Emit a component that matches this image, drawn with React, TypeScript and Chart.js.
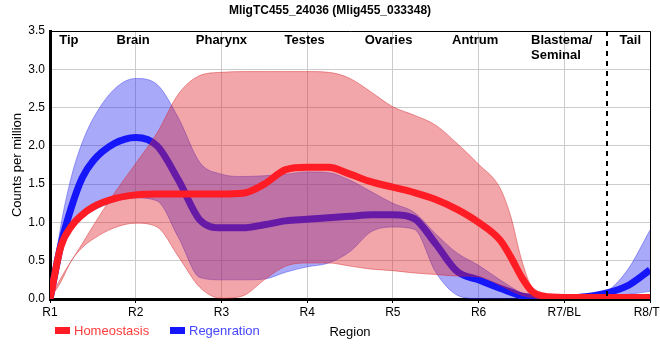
import React, { useEffect, useRef } from "react";
import { Chart, registerables } from "chart.js";

Chart.register(...registerables);

const TITLE = "MligTC455_24036 (Mlig455_033348)";
const REGION_TICKS = ["R1", "R2", "R3", "R4", "R5", "R6", "R7/BL", "R8/TL"];
const TISSUES = ["Tip", "Brain", "Pharynx", "Testes", "Ovaries", "Antrum", "Blastema/\nSeminal", "Tail"];
const TISSUE_AT = [0.22, 0.97, 2, 2.97, 3.95, 4.96, 5.97, 6.77];
const BOUNDARY_AT = 6.5;

const X = [0, 0.125, 0.25, 0.375, 0.5, 0.75, 1, 1.25, 1.5, 1.75, 2, 2.25, 2.5, 2.75, 3, 3.25, 3.5, 3.75, 4, 4.25, 4.5, 4.75, 5, 5.25, 5.375, 5.5, 5.625, 5.75, 6, 6.25, 6.5, 6.75, 7];

const homeoMean = [0, 0.68, 0.95, 1.1, 1.2, 1.31, 1.36, 1.37, 1.37, 1.37, 1.37, 1.38, 1.5, 1.69, 1.72, 1.72, 1.63, 1.53, 1.46, 1.39, 1.3, 1.17, 1.0, 0.77, 0.55, 0.29, 0.1, 0.04, 0.02, 0.02, 0.02, 0.02, 0.02];
const homeoUpper = [0, 0.27, 0.5, 0.72, 0.95, 1.38, 1.77, 2.17, 2.68, 2.92, 2.96, 2.97, 2.97, 2.97, 2.97, 2.96, 2.88, 2.7, 2.51, 2.4, 2.27, 2.03, 1.76, 1.45, 1.08, 0.52, 0.14, 0.05, 0, 0, 0, 0, 0];
const homeoLower = [0, 0.22, 0.5, 0.67, 0.78, 0.93, 0.99, 0.94, 0.55, 0.15, 0.01, 0.04, 0.25, 0.43, 0.47, 0.47, 0.43, 0.39, 0.37, 0.34, 0.32, 0.3, 0.29, 0.18, 0.11, 0.05, 0.02, 0, 0, 0, 0, 0, 0];

const regenMean = [0, 0.7, 1.2, 1.58, 1.8, 2.03, 2.11, 2.0, 1.55, 1.03, 0.93, 0.93, 0.97, 1.02, 1.04, 1.06, 1.08, 1.1, 1.1, 1.05, 0.72, 0.36, 0.25, 0.14, 0.09, 0.04, 0.02, 0.0, 0.01, 0.03, 0.08, 0.18, 0.38];
const regenUpper = [0, 0.95, 1.6, 2.04, 2.35, 2.74, 2.88, 2.8, 2.36, 1.78, 1.63, 1.6, 1.61, 1.63, 1.66, 1.65, 1.55, 1.4, 1.25, 1.13, 0.85, 0.6, 0.44, 0.25, 0.16, 0.08, 0.03, 0.01, 0, 0.02, 0.1, 0.4, 0.9];
const regenLower = [0, 0.62, 0.9, 1.05, 1.15, 1.27, 1.32, 1.28, 0.8, 0.28, 0.25, 0.25, 0.26, 0.35, 0.42, 0.47, 0.62, 0.88, 0.94, 0.91, 0.35, 0.05, 0, -0.02, -0.04, -0.05, -0.05, -0.05, -0.03, 0, 0.03, 0.06, 0.1];

const Y_TICKS = [0, 0.5, 1, 1.5, 2, 2.5, 3, 3.5];

const FONT = '"Liberation Sans", Arial, sans-serif';
const RED = "rgb(255,28,36)";
const BLUE = "rgb(22,22,250)";
const RED_BAND = "rgba(222,32,40,0.4)";
const RED_EDGE = "rgba(215,40,45,0.45)";
const BLUE_BAND = "rgba(40,40,240,0.4)";
const BLUE_EDGE = "rgba(40,40,235,0.4)";

const pts = (ys: number[]) => X.map((x, i) => ({ x, y: ys[i] }));

const overlay = {
  id: "overlay",
  afterDraw(chart: any) {
    const { ctx, chartArea: a, scales } = chart;
    const xs = scales.x;
    ctx.save();
    // top & right frame
    ctx.strokeStyle = "#000";
    ctx.lineWidth = 1;
    ctx.beginPath();
    ctx.moveTo(a.left, a.top + 0.5);
    ctx.lineTo(a.right + 0.5, a.top + 0.5);
    ctx.lineTo(a.right + 0.5, a.bottom);
    ctx.stroke();
    // dashed boundary
    const bx = Math.round(xs.getPixelForValue(BOUNDARY_AT));
    ctx.lineWidth = 2;
    ctx.setLineDash([5, 5]);
    ctx.beginPath();
    ctx.moveTo(bx, a.top);
    ctx.lineTo(bx, a.bottom);
    ctx.stroke();
    ctx.setLineDash([]);
    // tissue labels
    ctx.fillStyle = "#000";
    ctx.font = `bold 13px ${FONT}`;
    ctx.textBaseline = "middle";
    ctx.textAlign = "left";
    TISSUES.forEach((t, i) => {
      const lines = t.split("\n");
      const w = Math.max(...lines.map((l) => ctx.measureText(l).width));
      const cx = xs.getPixelForValue(TISSUE_AT[i]);
      lines.forEach((l, j) => ctx.fillText(l, cx - w / 2, a.top + 9.5 + j * 15));
    });
    // title
    ctx.textAlign = "center";
    ctx.font = `bold 12px ${FONT}`;
    ctx.fillText(TITLE, chart.width / 2, 10.5);
    // legend
    ctx.textAlign = "left";
    ctx.font = `13px ${FONT}`;
    const ly = 331;
    ctx.fillStyle = RED;
    ctx.fillRect(55, ly - 4, 15, 7);
    ctx.fillStyle = "rgb(255,60,60)";
    ctx.fillText("Homeostasis", 74, ly);
    ctx.fillStyle = BLUE;
    ctx.fillRect(170, ly - 4, 15, 7);
    ctx.fillStyle = "rgb(70,70,255)";
    ctx.fillText("Regenration", 189, ly);
    ctx.restore();
  },
};

export default function App() {
  const ref = useRef<HTMLCanvasElement>(null);
  useEffect(() => {
    const line = { pointRadius: 0, cubicInterpolationMode: "monotone" as const };
    const chart = new Chart(ref.current!, {
      type: "line",
      data: {
        datasets: [
          { ...line, label: "Homeostasis", data: pts(homeoMean), borderColor: RED, borderWidth: 7, fill: false, order: 0 },
          { ...line, label: "Homeostasis upper", data: pts(homeoUpper), borderColor: RED_EDGE, borderWidth: 1, backgroundColor: RED_BAND, fill: 2, order: 1 },
          { ...line, label: "Homeostasis lower", data: pts(homeoLower), borderColor: RED_EDGE, borderWidth: 1, fill: false, order: 2 },
          { ...line, label: "Regenration", data: pts(regenMean), borderColor: BLUE, borderWidth: 7, fill: false, order: 3 },
          { ...line, label: "Regenration upper", data: pts(regenUpper), borderColor: BLUE_EDGE, borderWidth: 1, backgroundColor: BLUE_BAND, fill: 5, order: 4 },
          { ...line, label: "Regenration lower", data: pts(regenLower), borderColor: BLUE_EDGE, borderWidth: 1, fill: false, order: 5 },
        ],
      },
      options: {
        animation: false,
        responsive: false,
        devicePixelRatio: 1,
        layout: { padding: { top: 31, right: 10, bottom: 0, left: 0 } },
        plugins: { legend: { display: false }, tooltip: { enabled: false }, title: { display: false } },
        scales: {
          x: {
            type: "linear",
            min: 0,
            max: 7,
            afterBuildTicks: (s: any) => {
              s.ticks = REGION_TICKS.map((_, i) => ({ value: i }));
            },
            afterFit: (s: any) => {
              s.paddingLeft = 0;
              s.paddingRight = 0;
              s.height = 61;
            },
            ticks: {
              autoSkip: false,
              maxRotation: 0,
              padding: 2,
              color: "#000",
              font: { family: FONT, size: 12 },
              callback: (v: any) => REGION_TICKS[v] ?? "",
            },
            grid: { color: "rgb(204,204,204)", lineWidth: 1, tickLength: 4, tickColor: "#000" },
            border: { color: "#000", width: 3 },
            title: { display: true, text: "Region", color: "#000", font: { family: FONT, size: 13 }, padding: { top: 0, bottom: 20 } },
          },
          y: {
            type: "linear",
            min: 0,
            max: 3.5,
            afterBuildTicks: (s: any) => {
              s.ticks = Y_TICKS.map((v) => ({ value: v }));
            },
            afterFit: (s: any) => {
              s.width = 50;
            },
            ticks: {
              padding: 5,
              color: "#000",
              font: { family: FONT, size: 12 },
              callback: (v: any) => Number(v).toFixed(1),
            },
            grid: { color: "rgb(204,204,204)", lineWidth: 1, drawTicks: false },
            border: { color: "#000", width: 3 },
            title: { display: true, text: "Counts per million", color: "#000", font: { family: FONT, size: 13 }, padding: { top: 10, bottom: 0 } },
          },
        },
      },
      plugins: [overlay],
    } as any);
    return () => chart.destroy();
  }, []);
  return (
    <div style={{ position: "fixed", left: 0, top: 0, width: 660, height: 360, background: "#fff" }}>
      <canvas ref={ref} width={660} height={360} style={{ display: "block", width: 660, height: 360 }} />
    </div>
  );
}
